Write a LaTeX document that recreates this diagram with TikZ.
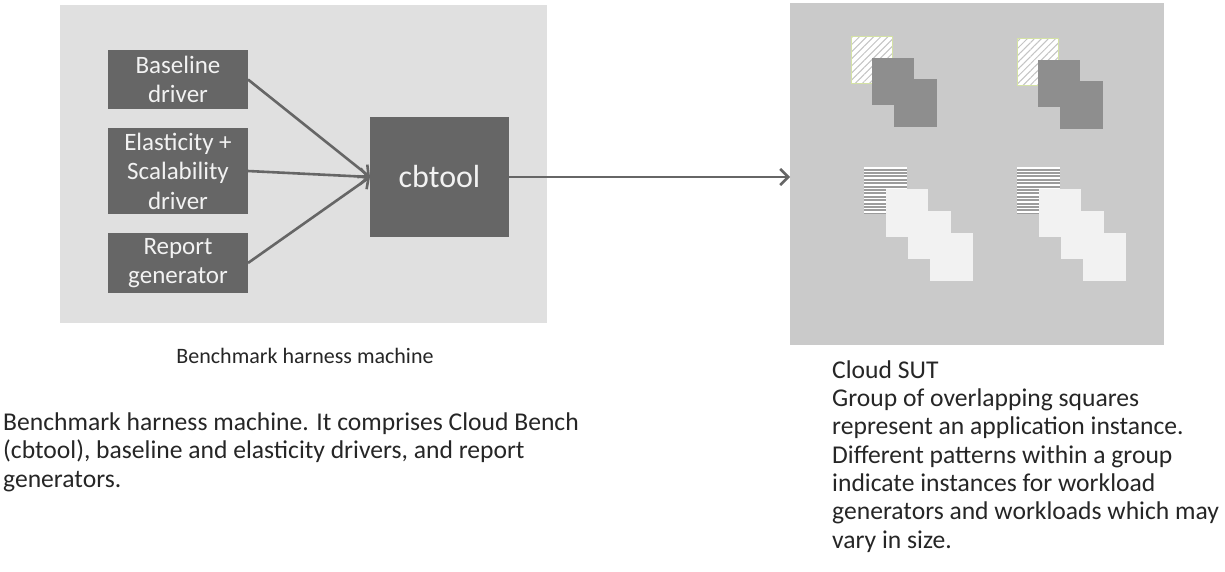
\documentclass[tikz,border=0pt]{standalone}
\usepackage{fontspec}
\setmainfont{Carlito}
\usetikzlibrary{arrows.meta,patterns.meta}
\definecolor{panelL}{HTML}{E0E0E0}
\definecolor{panelR}{HTML}{CACACA}
\definecolor{boxc}{HTML}{666666}
\definecolor{arrc}{HTML}{666666}
\definecolor{darksq}{HTML}{8E8E8E}
\definecolor{lightsq}{HTML}{F2F2F2}
\definecolor{hatchc}{HTML}{C4C4C4}
\definecolor{hatchb}{HTML}{D4E2A4}
\definecolor{stripebg}{HTML}{9C9C9C}
\definecolor{txt}{HTML}{262626}
\definecolor{boxtxt}{HTML}{F2F2F2}
\tikzset{
  panel/.style={inner sep=0pt, outer sep=0pt, draw=none},
  box/.style={fill=boxc, text=boxtxt, inner sep=0pt, outer sep=0pt, align=center,
    font=\fontsize{25}{29.5}\selectfont},
  arr/.style={draw=arrc, line width=2.6pt, -{Straight Barb[length=8pt,width=16pt]}},
  desc/.style={text=txt, inner sep=0pt, align=left, font=\fontsize{25.6}{28.3}\selectfont},
  hatchsq/.style={pattern={Lines[angle=45,distance=5pt,line width=1pt]}, pattern color=hatchc},
  stripeline/.style={draw=white, line width=1.4pt}
}
\begin{document}
\begin{tikzpicture}[x=1pt,y=-1pt]
\useasboundingbox (0,0) rectangle (1225,571);
\fill[white] (0,0) rectangle (1225,571);
% panels
\node[panel, fill=panelL, minimum width=487pt, minimum height=318pt] (harness) at (303.5,164) {};
\node[panel, fill=panelR, minimum width=374pt, minimum height=342pt] (sut) at (977,174) {};
% boxes
\node[box, minimum width=140pt, minimum height=59pt] (base) at (178,79.5) {Baseline\\driver};
\node[box, minimum width=140pt, minimum height=86pt] (elas) at (178,171) {Elasticity +\\Scalability\\driver};
\node[box, minimum width=140pt, minimum height=60pt] (rep) at (178,263) {Report\\generator};
\node[box, minimum width=139pt, minimum height=120pt, font=\fontsize{32}{36}\selectfont] (cb) at (439.5,177) {cbtool};
% arrows
\draw[arr] (base.east) -- (cb.west);
\draw[arr] (elas.east) -- (cb.west);
\draw[arr] (rep.east) -- (cb.west);
\draw[arr] (cb.east) -- (cb.east -| sut.west);
% top groups
\foreach \x/\y in {851/36, 1017/38} {
  \fill[white] (\x,\y) rectangle ++(41,47);
  \fill[hatchsq] (\x,\y) rectangle ++(41,47);
  \draw[hatchb, line width=0.8pt] (\x,\y) rectangle ++(41,47);
  \fill[darksq] (\x+21,\y+22) rectangle ++(42,47);
  \fill[darksq] (\x+43,\y+43) rectangle ++(43,48);
}
% bottom groups
\foreach \x in {864, 1017} {
  \fill[stripebg] (\x,167) rectangle ++(43,47);
  \foreach \k in {0,...,13} {
    \draw[stripeline] (\x,167.8+3.4*\k) -- ++(43,0);
  }
  \fill[lightsq] (\x+22,189) rectangle ++(42,48);
  \fill[lightsq] (\x+44,211) rectangle ++(43,48);
  \fill[lightsq] (\x+66,233) rectangle ++(43,48);
}
% labels
\node[text=txt, inner sep=0pt, font=\fontsize{22}{26}\selectfont] (hl) at (305,356) {Benchmark harness machine};
\node[desc, anchor=base west] (d1) at (3,487) {Benchmark harness machine. It comprises Cloud Bench\\(cbtool), baseline and elasticity drivers, and report\\generators.};
\node[desc, anchor=base west] (d2) at (832,548) {Cloud SUT\\Group of overlapping squares\\represent an application instance.\\Different patterns within a group\\indicate instances for workload\\generators and workloads which may\\vary in size.};
\end{tikzpicture}
\end{document}
